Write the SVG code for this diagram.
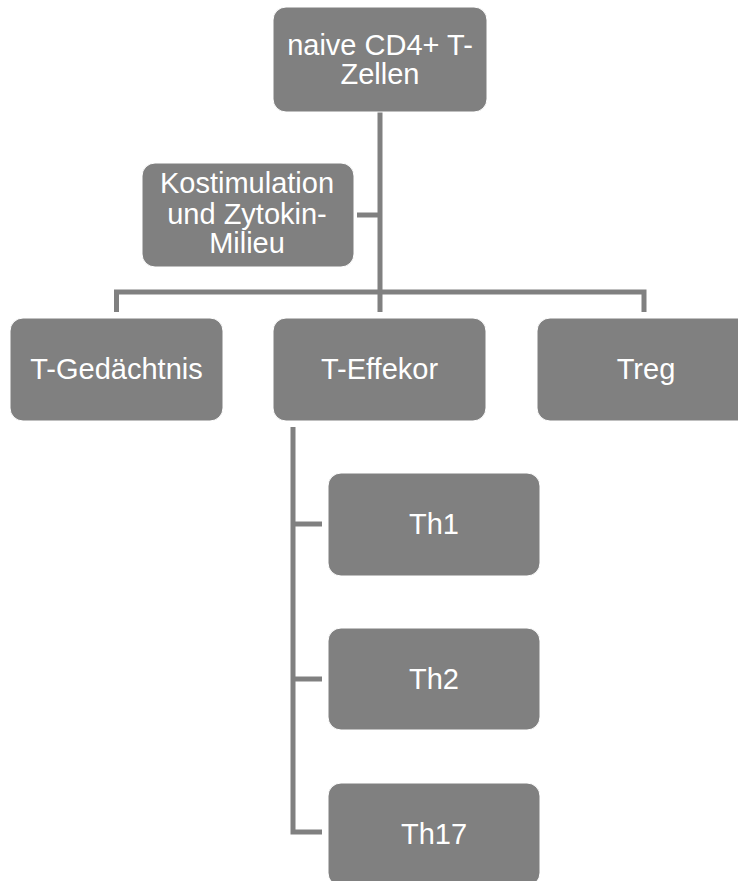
<svg xmlns="http://www.w3.org/2000/svg" width="738" height="881" viewBox="0 0 738 881">
<style>
.box{fill:#808080;stroke:#ffffff;stroke-width:1}
.t{font-family:"Liberation Sans",Arial,sans-serif;font-size:29px;fill:#ffffff;text-anchor:middle}
.c{fill:none;stroke:#808080;stroke-width:5}
</style>
<rect width="738" height="881" fill="#ffffff"/>
<g id="connectors">
<path class="c" d="M380,112 V312"/>
<path class="c" d="M357,215 H380"/>
<path class="c" d="M116.5,312 V292 H644 V312"/>
<path class="c" d="M293,427 V832 H322"/>
<path class="c" d="M293,524 H322"/>
<path class="c" d="M293,679 H322"/>
</g>
<g id="naive">
<rect class="box" x="273" y="7" width="214" height="105" rx="13"/>
<text class="t" x="380" y="55">naive CD4+ T-</text>
<text class="t" x="380" y="84">Zellen</text>
</g>
<g id="kostimulation">
<rect class="box" x="142" y="163" width="212" height="104" rx="13"/>
<text class="t" x="247" y="193">Kostimulation</text>
<text class="t" x="247" y="224">und Zytokin-</text>
<text class="t" x="247" y="253">Milieu</text>
</g>
<g id="gedaechtnis">
<rect class="box" x="10" y="318" width="213" height="103" rx="13"/>
<text class="t" x="116.5" y="379">T-Gedächtnis</text>
</g>
<g id="effektor">
<rect class="box" x="273" y="318" width="213" height="103" rx="13"/>
<text class="t" x="379.5" y="379">T-Effekor</text>
</g>
<g id="treg">
<rect class="box" x="537" y="318" width="214" height="103" rx="13"/>
<text class="t" x="646" y="379">Treg</text>
</g>
<g id="th1">
<rect class="box" x="328" y="473" width="212" height="103" rx="13"/>
<text class="t" x="434" y="534">Th1</text>
</g>
<g id="th2">
<rect class="box" x="328" y="628" width="212" height="102" rx="13"/>
<text class="t" x="434" y="689">Th2</text>
</g>
<g id="th17">
<rect class="box" x="328" y="783" width="212" height="103" rx="13"/>
<text class="t" x="434" y="844">Th17</text>
</g>
</svg>
